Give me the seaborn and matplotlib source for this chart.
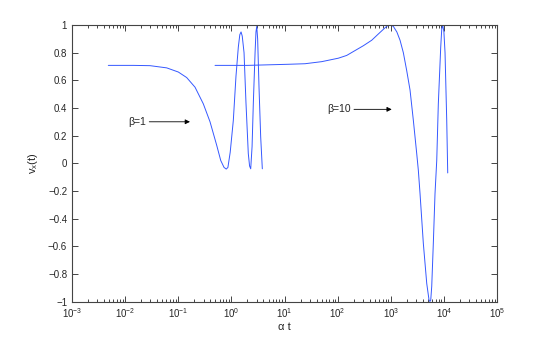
import matplotlib
matplotlib.use("Agg")
import matplotlib.pyplot as plt
from matplotlib.ticker import LogLocator, NullFormatter
import seaborn as sns
import pandas as pd

# curve beta = 1
at_b1 = [0.00482, 0.01, 0.01426, 0.0294, 0.0606, 0.1002, 0.144, 0.207, 0.296,
         0.396, 0.529, 0.63, 0.727, 0.80, 0.86, 0.95, 1.087, 1.22, 1.35, 1.44,
         1.52, 1.60, 1.73, 1.88, 2.08, 2.20, 2.31, 2.45, 2.59, 2.79, 2.90, 3.00,
         3.12, 3.31, 3.56, 3.82]
vx_b1 = [0.708, 0.708, 0.708, 0.706, 0.69, 0.66, 0.62, 0.55, 0.43,
         0.30, 0.13, 0.02, -0.03, -0.042, -0.03, 0.08, 0.31, 0.63, 0.84, 0.93,
         0.95, 0.92, 0.80, 0.44, 0.07, -0.02, -0.04, 0.12, 0.44, 0.80, 0.95, 0.99,
         0.90, 0.55, 0.19, -0.04]

# curve beta = 10
at_b10 = [0.492, 2.0, 11.8, 24.3, 50.1, 103, 148, 212, 304, 438, 583, 780, 900,
          1000, 1117, 1300, 1494, 1723, 1995, 2303, 2660, 3078, 3300, 3554,
          4100, 4753, 5250, 5450, 5650, 5900, 6320, 6800, 7330, 7850, 8710,
          9100, 9500, 10000, 10500, 11300, 11800]
vx_b10 = [0.708, 0.708, 0.716, 0.72, 0.735, 0.76, 0.78, 0.815, 0.85, 0.89,
          0.935, 0.98, 1.0, 1.0, 0.99, 0.95, 0.89, 0.80, 0.67, 0.53, 0.31, 0.07,
          -0.05, -0.22, -0.58, -0.87, -0.99, -1.0, -0.99, -0.89, -0.58, -0.22,
          0.02, 0.43, 0.84, 0.97, 1.0, 0.95, 0.80, 0.31, -0.07]

y_ticks = [-1, -0.8, -0.6, -0.4, -0.2, 0, 0.2, 0.4, 0.6, 0.8, 1]
y_labels = ["\u22121", "\u22120.8", "\u22120.6", "\u22120.4", "\u22120.2", "0",
            "0.2", "0.4", "0.6", "0.8", "1"]

df1 = pd.DataFrame({"at": at_b1, "vx": vx_b1})
df10 = pd.DataFrame({"at": at_b10, "vx": vx_b10})

sns.set_style("ticks", {"xtick.direction": "in", "ytick.direction": "in"})
plt.rcParams["font.family"] = ["Liberation Sans", "DejaVu Sans"]
plt.rcParams["mathtext.default"] = "regular"

fig = plt.figure(figsize=(5.48, 3.39), dpi=100)
ax = fig.add_axes([0.1314, 0.1106, 0.7756, 0.8156])

line_col = "#3558ff"
sns.lineplot(data=df1, x="at", y="vx", ax=ax, color=line_col, lw=0.7, estimator=None)
sns.lineplot(data=df10, x="at", y="vx", ax=ax, color=line_col, lw=0.7, estimator=None)

ax.set_xscale("log")
ax.set_xlim(1e-3, 1e5)
ax.set_ylim(-1, 1)
ax.set_yticks(y_ticks)
ax.set_yticklabels(y_labels)
ax.set_xticks([10.0 ** k for k in range(-3, 6)])
ax.xaxis.set_minor_locator(LogLocator(base=10, subs=range(2, 10), numticks=100))
ax.xaxis.set_minor_formatter(NullFormatter())

for s in ax.spines.values():
    s.set_visible(True)
    s.set_color("#444444")
    s.set_linewidth(0.8)

ax.tick_params(which="both", direction="in", top=True, right=True,
               bottom=True, left=True, labelsize=7, color="#444444", width=0.7)
ax.tick_params(which="major", length=4)
ax.tick_params(which="minor", length=2.2)

ax.set_xlabel("\u03b1 t", fontsize=8, labelpad=1)
ax.set_ylabel("$v_x(t)$", fontsize=8, labelpad=6)

arrow = dict(arrowstyle="-|>", color="black", lw=0.6, mutation_scale=7,
             shrinkA=0, shrinkB=0)
ax.annotate("\u03b2=1", xy=(0.166, 0.30), xytext=(0.0247, 0.30),
            ha="right", va="center", fontsize=7.5, arrowprops=arrow)
ax.annotate("\u03b2=10", xy=(1042, 0.39), xytext=(176, 0.39),
            ha="right", va="center", fontsize=7.5, arrowprops=arrow)

fig.savefig("out.png", dpi=100)
